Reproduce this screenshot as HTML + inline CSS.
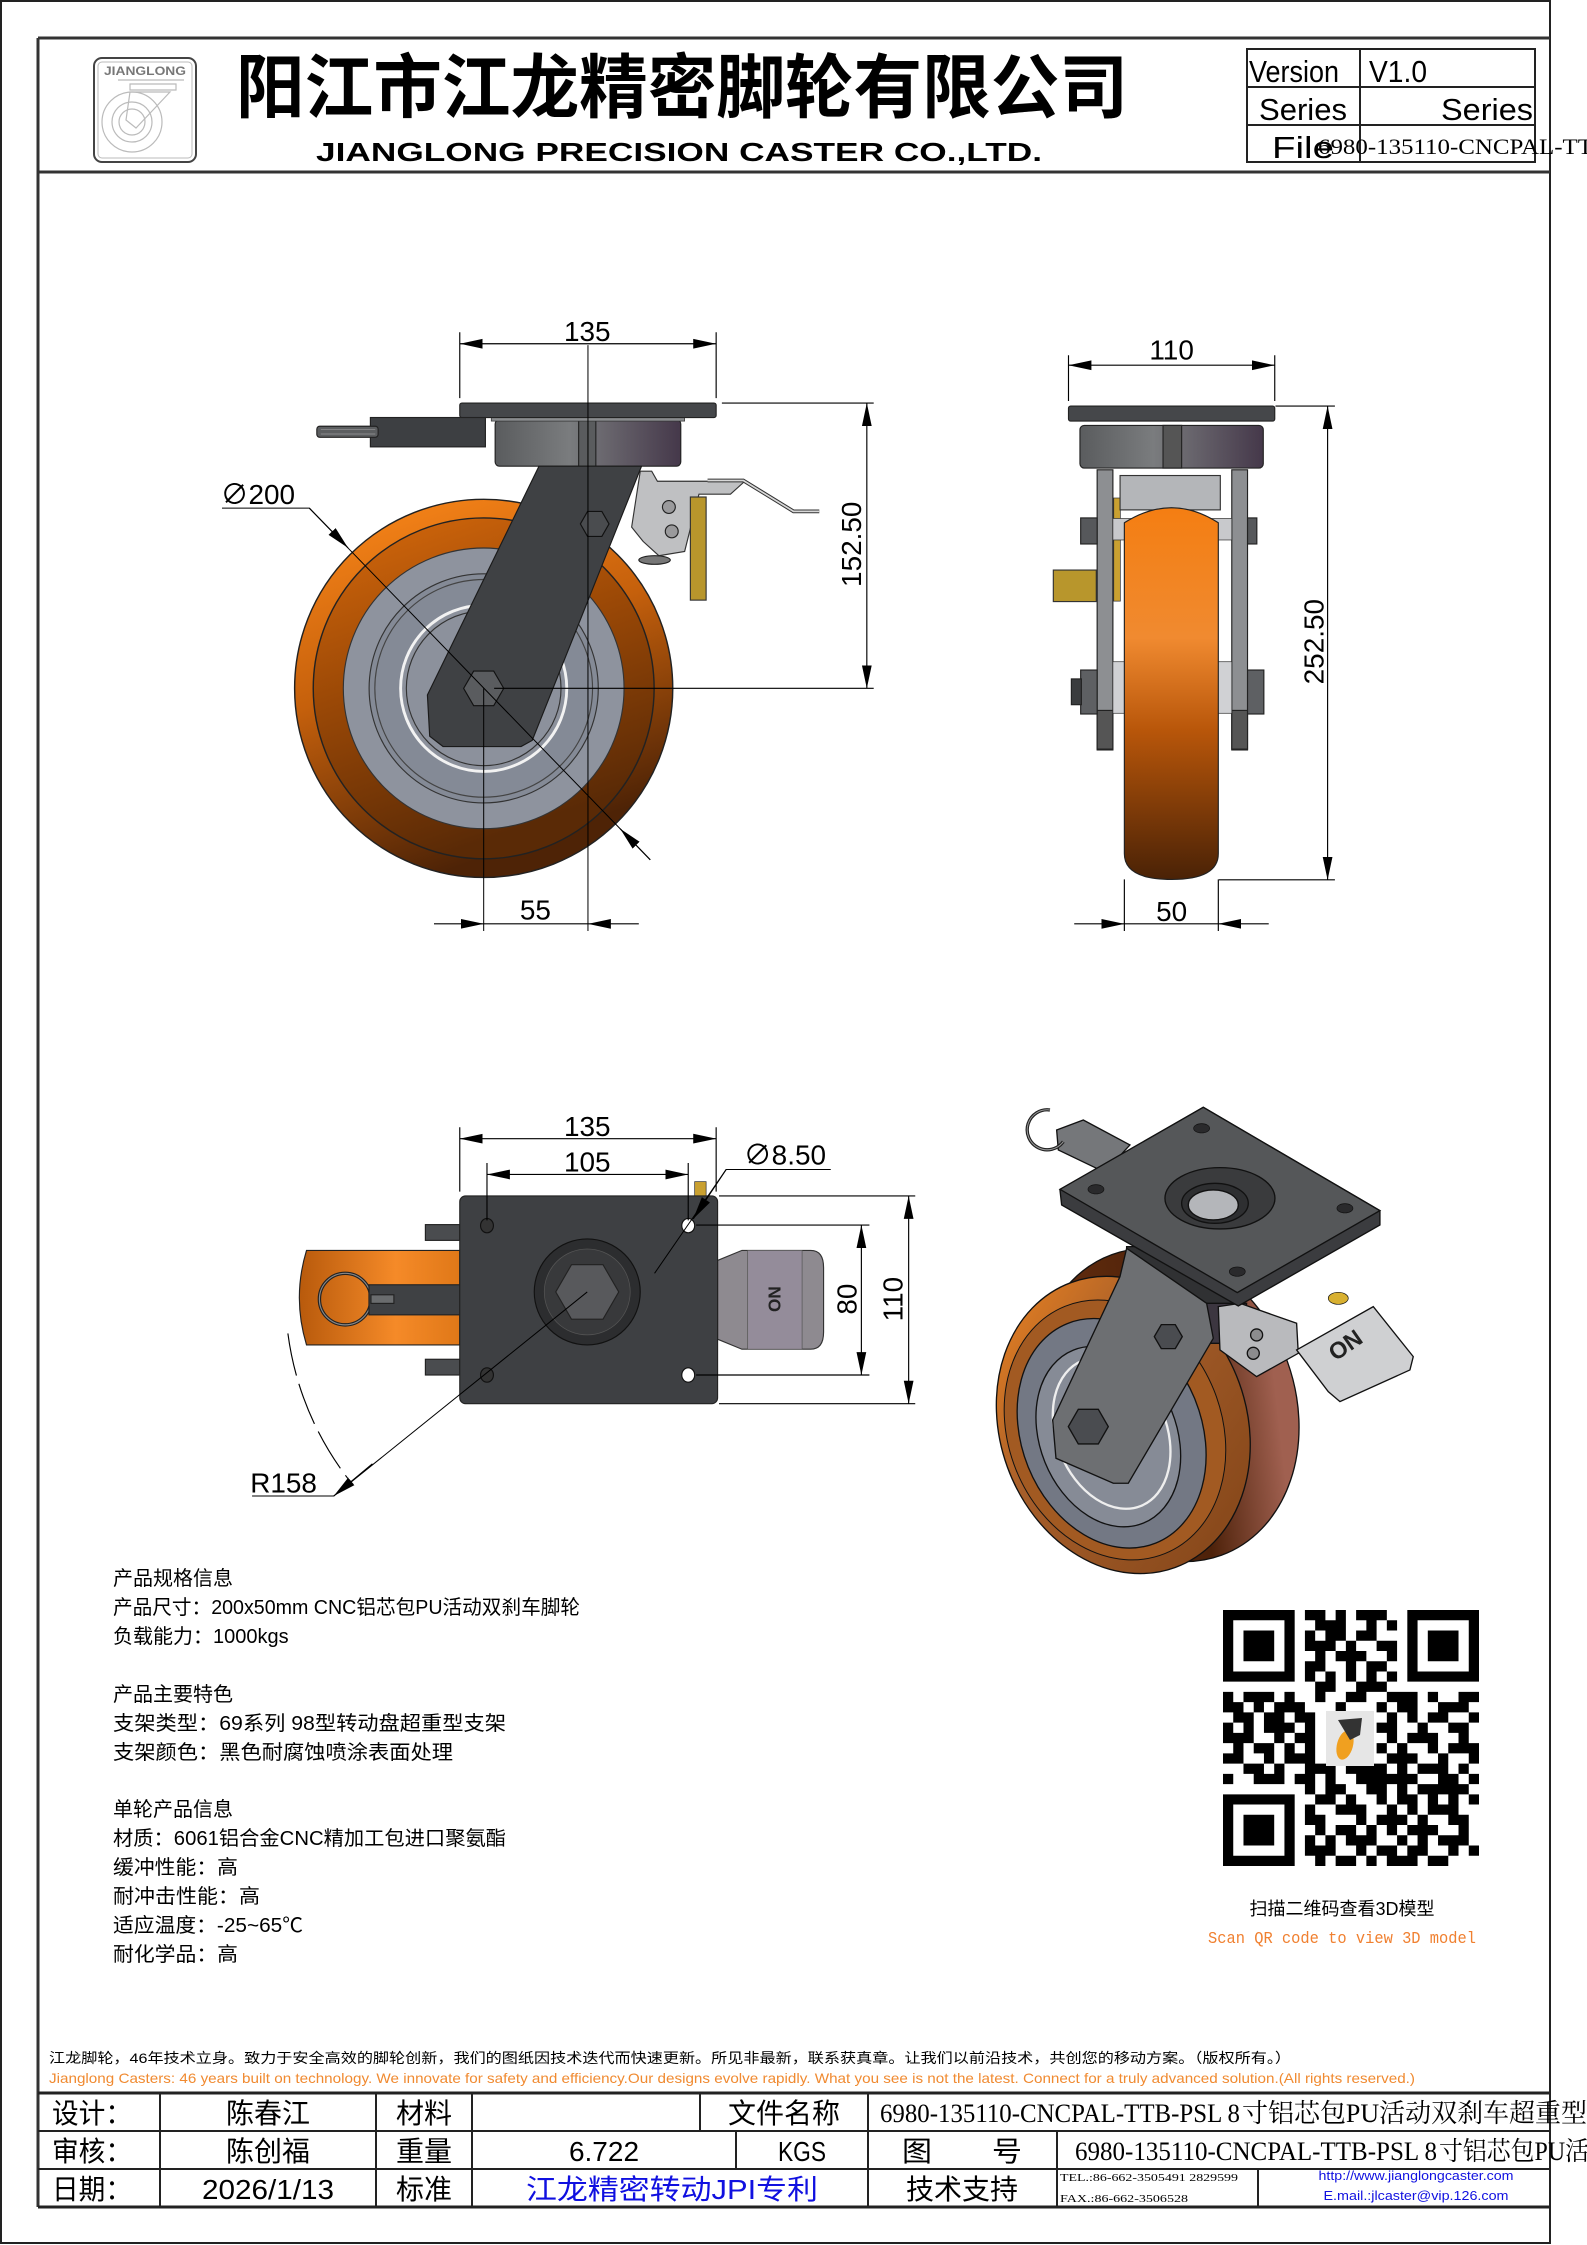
<!DOCTYPE html>
<html><head><meta charset="utf-8">
<style>
html,body{margin:0;padding:0;background:#fff;}
svg{display:block;}
.s{font-family:"Liberation Sans","Noto Sans CJK SC",sans-serif;}
.c{font-family:"Liberation Sans","Noto Sans CJK SC",sans-serif;}
.sf{font-family:"Liberation Serif","Noto Serif CJK SC",serif;}
</style></head>
<body>
<svg width="1587" height="2245" viewBox="0 0 1587 2245" xmlns="http://www.w3.org/2000/svg">
<defs>
<marker id="ar" viewBox="0 0 16 8" refX="16" refY="4" markerWidth="16" markerHeight="8" markerUnits="userSpaceOnUse" orient="auto-start-reverse"><path d="M0,0.6 L16,4 L0,7.4 z" fill="#000"/></marker>
<linearGradient id="tire" x1="0" y1="0" x2="0.35" y2="1"><stop offset="0" stop-color="#ff8a1a"/><stop offset="0.5" stop-color="#c5600c"/><stop offset="1" stop-color="#4e2306"/></linearGradient>
<linearGradient id="tire2" x1="0" y1="0" x2="0.35" y2="1"><stop offset="0" stop-color="#d86a0c"/><stop offset="0.5" stop-color="#9a4806"/><stop offset="1" stop-color="#5a2a06"/></linearGradient>
<linearGradient id="side" x1="0" y1="0" x2="0" y2="1"><stop offset="0" stop-color="#f47e12"/><stop offset="0.35" stop-color="#f08a30"/><stop offset="0.6" stop-color="#b8560a"/><stop offset="1" stop-color="#4a2206"/></linearGradient>
<linearGradient id="hous" x1="0" y1="0" x2="1" y2="0"><stop offset="0" stop-color="#5a5c5e"/><stop offset="0.4" stop-color="#7a7c7e"/><stop offset="1" stop-color="#45384a"/></linearGradient>
<linearGradient id="orL" x1="0" y1="0" x2="1" y2="0"><stop offset="0" stop-color="#b85a0c"/><stop offset="0.6" stop-color="#f58a28"/><stop offset="1" stop-color="#e07818"/></linearGradient>
<linearGradient id="isoT" x1="0" y1="0" x2="0.6" y2="1"><stop offset="0" stop-color="#f08520"/><stop offset="0.45" stop-color="#a65e2a"/><stop offset="1" stop-color="#8a4a1c"/></linearGradient>
<linearGradient id="isoB" x1="0" y1="0" x2="1" y2="0.3"><stop offset="0" stop-color="#6a3010"/><stop offset="0.7" stop-color="#4e220a"/><stop offset="1" stop-color="#a06050"/></linearGradient>
</defs>

<!-- outer borders -->
<rect x="1" y="1" width="1549" height="2242" fill="none" stroke="#222" stroke-width="2"/>
<path d="M38 38 H1550 M38 38 V2207 M38 172 H1550" stroke="#333" stroke-width="3" fill="none"/>

<!-- header logo -->
<rect x="94" y="58" width="102" height="104" rx="8" fill="#fff" stroke="#444" stroke-width="2"/>
<rect x="98" y="62" width="94" height="96" rx="4" fill="none" stroke="#bbb" stroke-width="1"/>
<text x="145" y="75" text-anchor="middle" class="s" font-size="12" font-weight="bold" fill="#777" textLength="82" lengthAdjust="spacingAndGlyphs">JIANGLONG</text>
<g fill="none" stroke="#bbb" stroke-width="1.2">
<path d="M118 80 H184 M130 84 H176 V90 H130 Z"/>
<circle cx="132" cy="122" r="30"/><circle cx="132" cy="122" r="20"/><circle cx="132" cy="122" r="13"/>
<path d="M130 92 L150 92 L170 92 L136 128 L126 120 Z"/>
</g>
<!-- title -->
<text x="236" y="112" class="c" font-size="70" font-weight="bold" fill="#000" textLength="892" lengthAdjust="spacingAndGlyphs">阳江市江龙精密脚轮有限公司</text>
<text x="316" y="161" class="s" font-size="26" font-weight="bold" fill="#000" textLength="726" lengthAdjust="spacingAndGlyphs">JIANGLONG PRECISION CASTER CO.,LTD.</text>
<!-- version table -->
<g stroke="#222" stroke-width="2" fill="none">
<rect x="1247" y="49" width="288" height="113"/>
<path d="M1247 87 H1535 M1247 125 H1535 M1360 49 V162"/>
</g>
<g class="s" font-size="31" fill="#000">
<text x="1249" y="82" textLength="90" lengthAdjust="spacingAndGlyphs">Version</text>
<text x="1369" y="82" textLength="58" lengthAdjust="spacingAndGlyphs">V1.0</text>
<text x="1259" y="120" textLength="88" lengthAdjust="spacingAndGlyphs">Series</text>
<text x="1441" y="120" textLength="92" lengthAdjust="spacingAndGlyphs">Series</text>
<text x="1272" y="158" textLength="62" lengthAdjust="spacingAndGlyphs">File</text>
</g>
<text x="1318" y="154" class="sf" font-size="22" fill="#000" textLength="275" lengthAdjust="spacingAndGlyphs">6980-135110-CNCPAL-TT</text>

<!-- ======== DRAWINGS (overview coords) ======== -->
<g transform="scale(1.4323)">
<g stroke-width="0.8" stroke="#000" fill="none">

<!-- ===== FRONT VIEW ===== -->
<!-- wheel -->
<circle cx="337.7" cy="480.6" r="132" fill="url(#tire)" stroke="#222" stroke-width="1"/>
<circle cx="337.7" cy="480.6" r="119" fill="url(#tire2)" stroke="#222" stroke-width="1"/>
<circle cx="337.7" cy="480.6" r="98" fill="#8e939e" stroke="#333"/>
<circle cx="337.7" cy="480.6" r="80" fill="#848a96" stroke="#333"/>
<circle cx="337.7" cy="480.6" r="76" fill="none" stroke="#444"/>
<circle cx="337.7" cy="480.6" r="58" fill="#8c919c" stroke="#f2f2f2" stroke-width="2"/>
<circle cx="337.7" cy="480.6" r="54" fill="none" stroke="#333"/>
<!-- housing / plate / handle -->
<rect x="345.7" y="293" width="129.6" height="32.5" rx="3" fill="url(#hous)" stroke="#222"/>
<rect x="404" y="293" width="12" height="32.5" fill="#5a5c5e" stroke="#222"/>
<rect x="343" y="290" width="135" height="4" fill="#8a8c8e" stroke="#333" stroke-width="0.5"/>
<rect x="321" y="281.4" width="179" height="10.1" rx="1.5" fill="#45474a" stroke="#222"/>
<rect x="258.6" y="291.5" width="80.3" height="20.5" fill="#3d3f42" stroke="#222"/>
<rect x="221.2" y="297.6" width="42.8" height="7.7" rx="2" fill="#5c5e60" stroke="#222"/>
<path d="M224 300 H262 M224 303 H262" stroke="#999" stroke-width="0.5"/>
<!-- brake -->
<path d="M447 329 L455 329 L459 336 L520 336 L510 345 L488 345 L478 385 L460 388 L449 378 L441 368 Z" fill="#bfc0c2" stroke="#333"/>
<path d="M494 335.5 L519 335.5 L554 357 L572 357" stroke="#333" stroke-width="2.6"/>
<path d="M494 335.5 L519 335.5 L554 357 L572 357" stroke="#d8d8d8" stroke-width="1.2"/>
<circle cx="467" cy="354" r="4.5" fill="#9a9a9c" stroke="#222"/>
<circle cx="469" cy="371" r="4.5" fill="#9a9a9c" stroke="#222"/>
<ellipse cx="457" cy="391" rx="11" ry="3" fill="#777" stroke="#222"/>
<rect x="482" y="347" width="11" height="72" fill="#b8962c" stroke="#333"/>
<!-- fork -->
<path d="M376.3 325.5 L447.9 325.5 L371.6 516.9 L363.8 521.2 L309.3 521.2 L300 514 L298.4 485.2 Z" fill="#3f4144" stroke="#1a1a1a"/>
<polygon points="351.7,480.6 344.7,492.7 330.7,492.7 323.7,480.6 330.7,468.5 344.7,468.5" fill="#5a5c5f" stroke="#111"/>
<polygon points="425.2,365.8 420.2,374.5 410.2,374.5 405.2,365.8 410.2,357.1 420.2,357.1" fill="#4a4c4f" stroke="#111"/>
<!-- front dims -->
<path d="M321 232 V278 M500 232 V278"/>
<line x1="321" y1="240" x2="500" y2="240" marker-start="url(#ar)" marker-end="url(#ar)"/>
<path d="M504 281.4 H610 M345 480.6 H610"/>
<line x1="605.2" y1="281.4" x2="605.2" y2="480.6" marker-start="url(#ar)" marker-end="url(#ar)"/>
<path d="M410.5 241 V650 M337.7 480.6 V650" stroke-width="0.7"/>
<line x1="303" y1="645" x2="337.7" y2="645" marker-end="url(#ar)"/>
<line x1="446" y1="645" x2="410.5" y2="645" marker-end="url(#ar)"/>
<line x1="337.7" y1="645" x2="410.5" y2="645"/>
<path d="M155 354.8 H216 L454 600.3" stroke-width="0.7"/>
<line x1="216" y1="354.8" x2="243" y2="382.5" marker-end="url(#ar)"/>
<line x1="454" y1="600.3" x2="433" y2="578.6" marker-end="url(#ar)"/>

<!-- ===== SIDE VIEW ===== -->
<rect x="735.4" y="398" width="30" height="22" fill="#b8962c" stroke="#333"/>
<rect x="777.6" y="347.7" width="4.6" height="72" fill="#c9a030" stroke="#333" stroke-width="0.5"/>
<rect x="766" y="328" width="11" height="195.6" fill="#8d8f92" stroke="#222"/>
<rect x="860" y="328" width="11" height="195.6" fill="#8d8f92" stroke="#222"/>
<rect x="766" y="496" width="11" height="27" fill="#555" stroke="#222"/>
<rect x="860" y="496" width="11" height="27" fill="#555" stroke="#222"/>
<rect x="777" y="362" width="83" height="15" fill="#c8c9cc" stroke="#333" stroke-width="0.5"/>
<rect x="777" y="462" width="83" height="36" fill="#d0d1d4" stroke="#333" stroke-width="0.5"/>
<rect x="782" y="332" width="70" height="24" fill="#b4b6b9" stroke="#333"/>
<path d="M785 365 L785 596 Q785 614 818 614 Q850.6 614 850.6 596 L850.6 365 Q818 344 785 365 Z" fill="url(#side)" stroke="#222"/>
<rect x="754.5" y="361.6" width="11.5" height="18.2" fill="#56585b" stroke="#222"/>
<rect x="871" y="361.6" width="6.5" height="18.2" fill="#56585b" stroke="#222"/>
<rect x="754.5" y="467.8" width="11.5" height="30.7" fill="#5e6063" stroke="#222"/>
<rect x="748" y="474" width="7" height="18" fill="#3a3c3e" stroke="#222"/>
<rect x="871" y="467.8" width="11.4" height="30.7" fill="#5e6063" stroke="#222"/>
<rect x="754" y="297" width="128" height="29.8" rx="3" fill="url(#hous)" stroke="#222"/>
<rect x="812" y="297" width="13" height="29.8" fill="#555" stroke="#222"/>
<rect x="746" y="283.5" width="144" height="10.5" rx="1.5" fill="#45474a" stroke="#222"/>
<!-- side dims -->
<path d="M746 248 V280 M890 248 V280"/>
<line x1="746" y1="255" x2="890" y2="255" marker-start="url(#ar)" marker-end="url(#ar)"/>
<path d="M890.5 283.5 H932 M851 614.3 H932"/>
<line x1="926.9" y1="283.5" x2="926.9" y2="614.3" marker-start="url(#ar)" marker-end="url(#ar)"/>
<path d="M785 614 V650 M850.6 614 V650"/>
<line x1="750" y1="645" x2="785" y2="645" marker-end="url(#ar)"/>
<line x1="885.8" y1="645" x2="850.6" y2="645" marker-end="url(#ar)"/>
<line x1="785" y1="645" x2="850.6" y2="645"/>

<!-- ===== TOP VIEW ===== -->
<path d="M321 873 L214 873 Q204 906 214 939 L321 939 Z" fill="url(#orL)" stroke="#222"/>
<circle cx="241" cy="907" r="18" fill="none" stroke="#222" stroke-width="2.4"/>
<circle cx="241" cy="907" r="18" fill="none" stroke="#888" stroke-width="0.8"/>
<rect x="257.6" y="897" width="63.4" height="21" fill="#3f4144" stroke="#222"/>
<rect x="259" y="904" width="16" height="6" fill="#6a6c6e" stroke="#222"/>
<rect x="297" y="855" width="24" height="11" fill="#4a4c4f" stroke="#222"/>
<rect x="297" y="949" width="24" height="11" fill="#4a4c4f" stroke="#222"/>
<path d="M501 880 L518 873 L566 873 Q575 873 575 885 L575 930 Q575 942 566 942 L518 942 L501 935 Z" fill="#8e8a90" stroke="#333"/>
<rect x="522" y="873" width="38" height="69" fill="#948c9a" stroke="#555" stroke-width="0.5"/>
<text transform="translate(541,907) rotate(-90)" text-anchor="middle" y="4" class="s" font-size="12" font-weight="bold" fill="#222" stroke="none">ON</text>
<rect x="485" y="825" width="8" height="12" fill="#c9a030" stroke="#333" stroke-width="0.5"/>
<rect x="321" y="835" width="180" height="145" rx="4" fill="#3e4043" stroke="#222"/>
<circle cx="410" cy="902" r="37" fill="#2c2d2f" stroke="#111"/>
<circle cx="410" cy="902" r="30" fill="#38393b" stroke="#555" stroke-width="0.5"/>
<polygon points="432,902 421,921 399,921 388,902 399,883 421,883" fill="#58595c" stroke="#222"/>
<ellipse cx="340" cy="855.7" rx="4.5" ry="5" fill="#333" stroke="#111"/>
<ellipse cx="480.5" cy="855.7" rx="4.5" ry="5" fill="#fff" stroke="#111"/>
<ellipse cx="340" cy="960" rx="4.5" ry="5" fill="#333" stroke="#111"/>
<ellipse cx="480.5" cy="960" rx="4.5" ry="5" fill="#fff" stroke="#111"/>
<!-- top dims -->
<path d="M321 787 V832 M500 787 V832 M340 812 V852 M480.5 812 V852"/>
<line x1="321" y1="795" x2="500" y2="795" marker-start="url(#ar)" marker-end="url(#ar)"/>
<line x1="340" y1="820" x2="480.5" y2="820" marker-start="url(#ar)" marker-end="url(#ar)"/>
<path d="M580 816.5 H507 L457 889" stroke-width="0.7"/>
<line x1="507" y1="816.5" x2="484" y2="851" marker-end="url(#ar)"/>
<path d="M486 855.3 H607 M486 960 H607 M502 835 H639 M502 980 H639"/>
<line x1="601.4" y1="855.3" x2="601.4" y2="960" marker-start="url(#ar)" marker-end="url(#ar)"/>
<line x1="634.4" y1="835" x2="634.4" y2="980" marker-start="url(#ar)" marker-end="url(#ar)"/>
<path d="M176 1044.5 H233 L410 902" stroke-width="0.7"/>
<line x1="260" y1="1022" x2="233" y2="1044.5" marker-end="url(#ar)"/>
<path d="M201 931 A211 211 0 0 0 245 1035" stroke-dasharray="30 6"/>

<!-- ===== ISO VIEW ===== -->
<g transform="translate(684.2,761) scale(0.2327)" stroke-width="4" stroke="#111">
<ellipse cx="560" cy="945" rx="385" ry="480" transform="rotate(-20 560 945)" fill="url(#isoB)"/>
<ellipse cx="430" cy="1005" rx="370" ry="455" transform="rotate(-20 430 1005)" fill="url(#isoT)"/>
<ellipse cx="405" cy="1020" rx="320" ry="400" transform="rotate(-22 405 1020)" fill="#a25a22" stroke-width="3"/>
<ellipse cx="395" cy="1030" rx="270" ry="355" transform="rotate(-22 395 1030)" fill="#737884"/>
<ellipse cx="385" cy="1040" rx="205" ry="280" transform="rotate(-22 385 1040)" fill="#868b96"/>
<ellipse cx="395" cy="1030" rx="165" ry="235" transform="rotate(-22 395 1030)" fill="none" stroke="#eee" stroke-width="7"/>
<path d="M440 470 L760 470 L760 650 L440 650 Z" fill="#303133"/>
<path d="M680 640 L800 640 L790 760 L690 760 Z" fill="#3c3640"/>
<path d="M440 475 L680 640 L700 745 L445 1180 L400 1180 L228 1105 L218 990 L420 560 Z" fill="#6d6f72"/>
<polygon points="607,740 586,776 544,776 523,740 544,704 586,704" fill="#4a4c50"/>
<polygon points="385,1010 355,1062 295,1062 265,1010 295,958 355,958" fill="#4a4c50"/>
<path d="M715 650 L780 640 L950 700 L955 790 L830 860 L720 780 Z" fill="#b9babd"/>
<circle cx="830" cy="735" r="18" fill="#8c8c8e"/><circle cx="820" cy="790" r="18" fill="#8c8c8e"/>
<path d="M950 780 L1180 650 L1300 800 L1290 840 L1080 935 L1045 905 Z" fill="#cfd0d2"/>
<text transform="translate(1110,785) rotate(-35)" text-anchor="middle" class="s" font-size="70" font-weight="bold" fill="#222" stroke="none">ON</text>
<ellipse cx="1075" cy="625" rx="30" ry="18" fill="#d8b030" stroke-width="2"/>
<path d="M230 120 L310 90 L450 165 L385 235 L360 240 L235 180 Z" fill="#75777a"/>
<path d="M210 60 A60 60 0 1 0 250 155" fill="none" stroke="#222" stroke-width="10"/>
<path d="M210 60 A60 60 0 1 0 250 155" fill="none" stroke="#999" stroke-width="3"/>
<path d="M240 300 L670 52 L1200 362 L1200 405 L775 648 L245 345 Z" fill="#3b3c3f"/>
<path d="M240 298 L670 52 L1200 362 L772 608 Z" fill="#555759"/>
<ellipse cx="665" cy="115" rx="24" ry="14" fill="#2a2a2c" stroke-width="2"/>
<ellipse cx="348" cy="298" rx="24" ry="14" fill="#2a2a2c" stroke-width="2"/>
<ellipse cx="1095" cy="355" rx="24" ry="14" fill="#2a2a2c" stroke-width="2"/>
<ellipse cx="772" cy="545" rx="24" ry="14" fill="#2a2a2c" stroke-width="2"/>
<ellipse cx="720" cy="325" rx="165" ry="92" fill="#3a3b3d"/>
<ellipse cx="705" cy="340" rx="100" ry="60" fill="#2e2f31"/>
<ellipse cx="700" cy="345" rx="75" ry="45" fill="#b4b6ba"/>
</g>
</g>

<!-- dimension texts -->
<g class="s" font-size="19.5" fill="#000">
<text x="410" y="238" text-anchor="middle">135</text>
<text x="180" y="352" text-anchor="middle">∅200</text>
<text transform="translate(601,380) rotate(-90)" text-anchor="middle">152.50</text>
<text x="373.8" y="642" text-anchor="middle">55</text>
<text x="818" y="251" text-anchor="middle">110</text>
<text transform="translate(924,448) rotate(-90)" text-anchor="middle">252.50</text>
<text x="818" y="643" text-anchor="middle">50</text>
<text x="410" y="793" text-anchor="middle">135</text>
<text x="410" y="818" text-anchor="middle">105</text>
<text x="548" y="813" text-anchor="middle">∅8.50</text>
<text transform="translate(598,907) rotate(-90)" text-anchor="middle">80</text>
<text transform="translate(630,907) rotate(-90)" text-anchor="middle">110</text>
<text x="198" y="1042" text-anchor="middle">R158</text>
</g>
</g>

<!-- ======== SPEC TEXT ======== -->
<g class="c" font-size="20" fill="#000">
<text x="113" y="1585">产品规格信息</text>
<text x="113" y="1614" textLength="467" lengthAdjust="spacingAndGlyphs">产品尺寸：200x50mm CNC铝芯包PU活动双刹车脚轮</text>
<text x="113" y="1643">负载能力：1000kgs</text>
<text x="113" y="1701">产品主要特色</text>
<text x="113" y="1730" textLength="393" lengthAdjust="spacingAndGlyphs">支架类型：69系列 98型转动盘超重型支架</text>
<text x="113" y="1759" textLength="340" lengthAdjust="spacingAndGlyphs">支架颜色：黑色耐腐蚀喷涂表面处理</text>
<text x="113" y="1816">单轮产品信息</text>
<text x="113" y="1845" textLength="393" lengthAdjust="spacingAndGlyphs">材质：6061铝合金CNC精加工包进口聚氨酯</text>
<text x="113" y="1874" textLength="125" lengthAdjust="spacingAndGlyphs">缓冲性能：高</text>
<text x="113" y="1903" textLength="147" lengthAdjust="spacingAndGlyphs">耐冲击性能：高</text>
<text x="113" y="1932" textLength="190" lengthAdjust="spacingAndGlyphs">适应温度：-25~65℃</text>
<text x="113" y="1961" textLength="125" lengthAdjust="spacingAndGlyphs">耐化学品：高</text>
</g>

<!-- ======== QR ======== -->
<g transform="translate(1223,1610) scale(10.24)">
<path fill="#000" fill-rule="evenodd" d="M0 0h7v7h-7z M1 1h5v5h-5z M2 2h3v3h-3z M18 0h7v7h-7z M19 1h5v5h-5z M20 2h3v3h-3z M0 18h7v7h-7z M1 19h5v5h-5z M2 20h3v3h-3z"/>
<path fill="#000" d="M8 0h2v1h-2z M11 0h1v1h-1z M13 0h3v1h-3z M9 1h3v1h-3z M14 1h1v1h-1z M16 1h1v1h-1z M8 2h1v1h-1z M10 2h2v1h-2z M13 2h2v1h-2z M8 3h3v1h-3z M12 3h1v1h-1z M15 3h2v1h-2z M9 4h1v1h-1z M11 4h3v1h-3z M16 4h1v1h-1z M8 5h2v1h-2z M12 5h1v1h-1z M14 5h2v1h-2z M8 6h1v1h-1z M10 6h1v1h-1z M12 6h1v1h-1z M14 6h1v1h-1z M16 6h1v1h-1z M9 7h2v1h-2z M13 7h3v1h-3z
M0 8h1v1h-1z M2 8h3v1h-3z M6 8h1v1h-1z M9 8h1v1h-1z M12 8h2v1h-2z M16 8h3v1h-3z M20 8h1v1h-1z M23 8h2v1h-2z
M0 9h2v1h-2z M3 9h1v1h-1z M5 9h3v1h-3z M11 9h1v1h-1z M15 9h1v1h-1z M17 9h2v1h-2z M21 9h3v1h-3z
M1 10h2v1h-2z M4 10h2v1h-2z M7 10h2v1h-2z M16 10h1v1h-1z M18 10h1v1h-1z M20 10h2v1h-2z M24 10h1v1h-1z
M0 11h1v1h-1z M2 11h1v1h-1z M4 11h3v1h-3z M8 11h1v1h-1z M15 11h2v1h-2z M19 11h1v1h-1z M22 11h2v1h-2z
M0 12h3v1h-3z M5 12h1v1h-1z M7 12h2v1h-2z M16 12h1v1h-1z M18 12h3v1h-3z M23 12h1v1h-1z
M1 13h1v1h-1z M3 13h2v1h-2z M6 13h1v1h-1z M8 13h1v1h-1z M15 13h1v1h-1z M17 13h1v1h-1z M20 13h1v1h-1z M22 13h3v1h-3z
M0 14h2v1h-2z M4 14h1v1h-1z M6 14h3v1h-3z M16 14h3v1h-3z M21 14h1v1h-1z M24 14h1v1h-1z
M2 15h2v1h-2z M5 15h1v1h-1z M8 15h3v1h-3z M12 15h4v1h-4z M17 15h1v1h-1z M19 15h3v1h-3z M23 15h1v1h-1z
M0 16h1v1h-1z M3 16h3v1h-3z M7 16h2v1h-2z M10 16h1v1h-1z M13 16h6v1h-6z M21 16h2v1h-2z M24 16h1v1h-1z
M8 17h1v1h-1z M10 17h2v1h-2z M14 17h2v1h-2z M17 17h1v1h-1z M19 17h5v1h-5z
M9 18h2v1h-2z M12 18h1v1h-1z M15 18h1v1h-1z M17 18h2v1h-2z M20 18h1v1h-1z M22 18h1v1h-1z M24 18h1v1h-1z
M8 19h1v1h-1z M11 19h3v1h-3z M16 19h1v1h-1z M18 19h1v1h-1z M20 19h3v1h-3z
M8 20h2v1h-2z M13 20h1v1h-1z M15 20h3v1h-3z M19 20h1v1h-1z M22 20h2v1h-2z
M9 21h1v1h-1z M11 21h2v1h-2z M14 21h1v1h-1z M16 21h1v1h-1z M18 21h3v1h-3z M23 21h1v1h-1z
M8 22h1v1h-1z M10 22h1v1h-1z M12 22h3v1h-3z M17 22h1v1h-1z M19 22h1v1h-1z M21 22h3v1h-3z
M8 23h3v1h-3z M13 23h1v1h-1z M15 23h2v1h-2z M18 23h2v1h-2z M22 23h1v1h-1z M24 23h1v1h-1z
M9 24h1v1h-1z M11 24h2v1h-2z M14 24h1v1h-1z M16 24h3v1h-3z M20 24h2v1h-2z"/>
</g>
<rect x="1326" y="1711" width="48" height="55" fill="#e6e6e6"/>
<ellipse cx="1345" cy="1745" rx="8" ry="15" fill="#f0a020" transform="rotate(15 1345 1745)"/>
<path d="M1338 1720 L1362 1718 L1360 1735 L1350 1740 Z" fill="#333"/>
<text x="1342" y="1915" text-anchor="middle" class="c" font-size="18" fill="#000">扫描二维码查看3D模型</text>
<text x="1342" y="1943" text-anchor="middle" font-family="'Liberation Mono',monospace" font-size="16.5" fill="#f08030" textLength="268" lengthAdjust="spacingAndGlyphs">Scan QR code to view 3D model</text>

<!-- ======== FOOTER ======== -->
<text x="49" y="2063" class="c" font-size="14" fill="#000" textLength="1242" lengthAdjust="spacingAndGlyphs">江龙脚轮，46年技术立身。致力于安全高效的脚轮创新，我们的图纸因技术迭代而快速更新。所见非最新，联系获真章。让我们以前沿技术，共创您的移动方案。（版权所有。）</text>
<text x="49" y="2083" class="s" font-size="14" fill="#f08a30" textLength="1366" lengthAdjust="spacingAndGlyphs">Jianglong Casters: 46 years built on technology. We innovate for safety and efficiency.Our designs evolve rapidly. What you see is not the latest. Connect for a truly advanced solution.(All rights reserved.)</text>

<g stroke="#222" stroke-width="2" fill="none">
<path d="M38 2093 H1550" stroke-width="3"/>
<path d="M38 2131 H1550 M38 2169 H1550"/>
<path d="M38 2207 H1550" stroke-width="3"/>
<path d="M160 2093 V2207 M376 2093 V2207 M472 2093 V2207 M868 2093 V2207"/>
<path d="M700 2093 V2131 M736 2131 V2169 M1057 2131 V2207 M1258 2169 V2207"/>
</g>
<g class="c" font-size="28" fill="#000">
<text x="52" y="2123" textLength="80" lengthAdjust="spacingAndGlyphs">设计：</text>
<text x="268" y="2123" text-anchor="middle">陈春江</text>
<text x="424" y="2123" text-anchor="middle">材料</text>
<text x="784" y="2123" text-anchor="middle">文件名称</text>
<text x="52" y="2161" textLength="80" lengthAdjust="spacingAndGlyphs">审核：</text>
<text x="268" y="2161" text-anchor="middle">陈创福</text>
<text x="424" y="2161" text-anchor="middle">重量</text>
<text x="604" y="2161" text-anchor="middle" class="s">6.722</text>
<text x="802" y="2161" text-anchor="middle" class="s" textLength="48" lengthAdjust="spacingAndGlyphs">KGS</text>
<text x="902" y="2161" textLength="120" lengthAdjust="spacingAndGlyphs">图　　号</text>
<text x="52" y="2199" textLength="80" lengthAdjust="spacingAndGlyphs">日期：</text>
<text x="268" y="2199" text-anchor="middle" class="s" textLength="132" lengthAdjust="spacingAndGlyphs">2026/1/13</text>
<text x="424" y="2199" text-anchor="middle">标准</text>
<text x="526" y="2199" fill="#1010e0" textLength="292" lengthAdjust="spacingAndGlyphs">江龙精密转动JPI专利</text>
<text x="962" y="2199" text-anchor="middle">技术支持</text>
</g>
<g class="sf" font-size="26" fill="#000">
<text x="880" y="2122" textLength="360" lengthAdjust="spacingAndGlyphs">6980-135110-CNCPAL-TTB-PSL 8</text>
<text x="1242" y="2122" textLength="345" lengthAdjust="spacingAndGlyphs">寸铝芯包PU活动双刹车超重型</text>
<text x="1075" y="2160" textLength="362" lengthAdjust="spacingAndGlyphs">6980-135110-CNCPAL-TTB-PSL 8</text>
<text x="1439" y="2160" textLength="150" lengthAdjust="spacingAndGlyphs">寸铝芯包PU活</text>
</g>
<g class="sf" font-size="11" fill="#000">
<text x="1060" y="2181" textLength="178" lengthAdjust="spacingAndGlyphs">TEL.:86-662-3505491 2829599</text>
<text x="1060" y="2202" textLength="128" lengthAdjust="spacingAndGlyphs">FAX.:86-662-3506528</text>
</g>
<g class="s" font-size="13" fill="#1010e0" text-anchor="middle">
<text x="1416" y="2180" textLength="195" lengthAdjust="spacingAndGlyphs">http://www.jianglongcaster.com</text>
<text x="1416" y="2200" textLength="185" lengthAdjust="spacingAndGlyphs">E.mail.:jlcaster@vip.126.com</text>
</g>
</svg>
</body></html>
